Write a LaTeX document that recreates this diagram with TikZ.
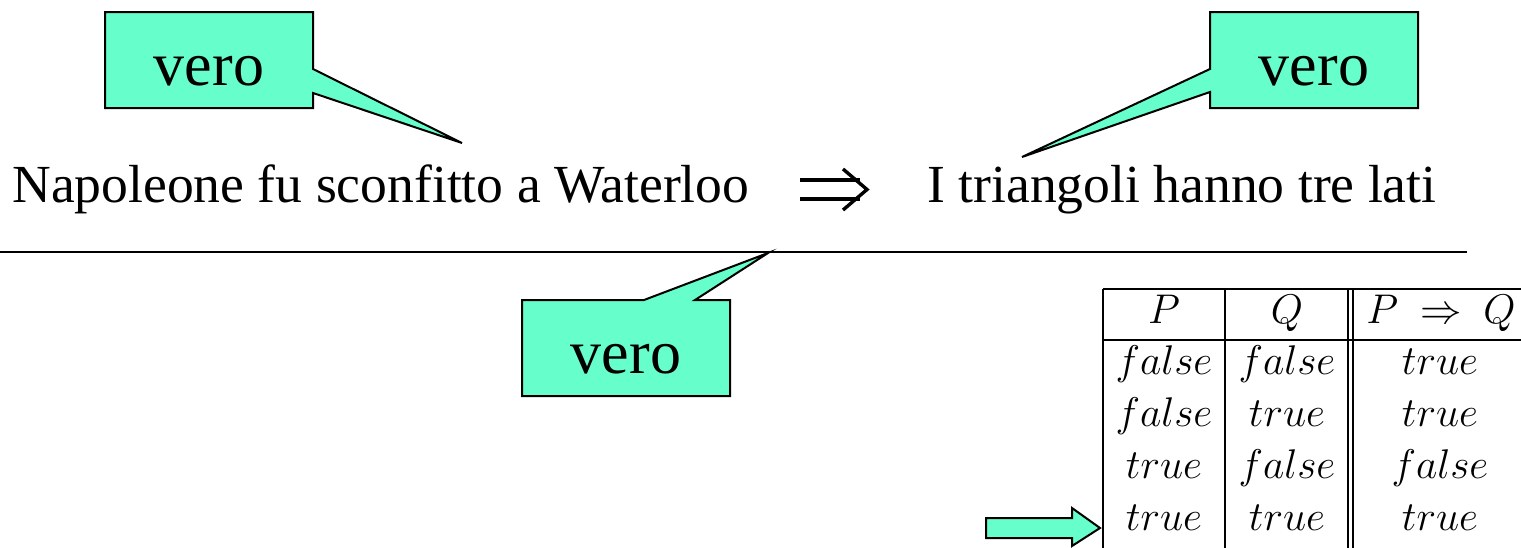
\documentclass[tikz,border=0pt]{standalone}
\usepackage{fontspec}
\setmainfont{Liberation Serif}
\definecolor{bubblefill}{RGB}{102,255,204}
\begin{document}
\begin{tikzpicture}[x=0.5pt,y=-0.5pt,
  bubble/.style={draw=black,fill=bubblefill,line width=1pt,line join=miter},
  bubbletext/.style={font=\fontsize{31}{36}\selectfont,anchor=base,inner sep=0pt},
  sentence/.style={font=\fontsize{26.8}{32}\selectfont,anchor=base west,inner sep=0pt},
  cell/.style={font=\fontsize{20.74}{25}\selectfont,anchor=base,inner sep=0pt},
  rulestroke/.style={line width=1pt,draw=black},
  implstroke/.style={line width=1.7pt,draw=black,line cap=butt,line join=miter}]
\useasboundingbox (0,0) rectangle (1521,547);
\begin{scope}
\clip (0,0) rectangle (1521,547);

% the implication and its two propositions
\node[sentence] (lhs) at (12,202) {Napoleone fu sconfitto a Waterloo};
\node[sentence] (rhs) at (927,202) {I triangoli hanno tre lati};

% the implication sign, drawn as a double arrow
\draw[implstroke] (800,180) -- (860,180);
\draw[implstroke] (800,199) -- (860,199);
\draw[implstroke] (843,169) -- (867,189.5) -- (843,210);

% horizontal separator
\coordinate (sepL) at (0,252);
\coordinate (sepR) at (1467,252);
\draw[rulestroke] (sepL) -- (sepR);

% callout over the antecedent
\draw[bubble] (105,12) -- (313,12) -- (313,69) -- (462,143) -- (313,93)
  -- (313,108) -- (105,108) -- cycle;
\node[bubbletext] (v1) at (209,85) {vero};

% callout over the consequent
\draw[bubble] (1210,12) -- (1418,12) -- (1418,108) -- (1210,108)
  -- (1210,92) -- (1022,157) -- (1210,69) -- cycle;
\node[bubbletext] (v2) at (1314,85) {vero};

% callout under the separator
\draw[bubble] (522,300) -- (644,300) -- (768,253) -- (695,300) -- (730,300)
  -- (730,396) -- (522,396) -- cycle;
\node[bubbletext] (v3) at (626,373) {vero};

% truth table of the implication
\draw[rulestroke] (1103,289) -- (1540,289);
\draw[rulestroke] (1103,340) -- (1540,340);
\draw[rulestroke] (1103,289) -- (1103,560);
\draw[rulestroke] (1225,289) -- (1225,560);
\draw[rulestroke] (1348,289) -- (1348,560);
\draw[rulestroke] (1353,289) -- (1353,560);

\node[cell] (hP) at (1164,323) {$P$};
\node[cell] (hQ) at (1287,323) {$Q$};
\node[cell] (hPQ) at (1441,323) {$P\ \Rightarrow\ Q$};

\node[cell] (a1) at (1164,374) {$false$};
\node[cell] (b1) at (1287,374) {$false$};
\node[cell] (c1) at (1440,374) {$true$};
\node[cell] (a2) at (1164,426) {$false$};
\node[cell] (b2) at (1287,426) {$true$};
\node[cell] (c2) at (1440,426) {$true$};
\node[cell] (a3) at (1164,478) {$true$};
\node[cell] (b3) at (1287,478) {$false$};
\node[cell] (c3) at (1440,478) {$false$};
\node[cell] (a4) at (1164,530) {$true$};
\node[cell] (b4) at (1287,530) {$true$};
\node[cell] (c4) at (1440,530) {$true$};

% block arrow pointing at the last row
\draw[bubble] (986,518) -- (1072,518) -- (1072,508) -- (1100,528)
  -- (1072,546) -- (1072,538) -- (986,538) -- cycle;
\end{scope}
\end{tikzpicture}
\end{document}
